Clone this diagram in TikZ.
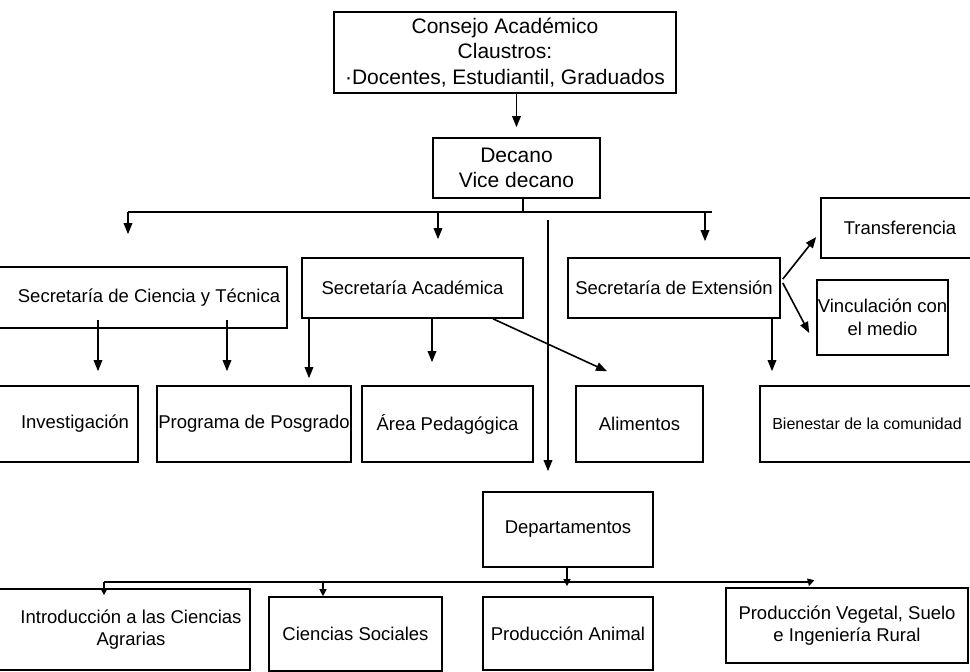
\documentclass[tikz,border=0pt]{standalone}
\usepackage{fontspec}
\setmainfont{Liberation Sans}
\usepackage{tikz}
\usetikzlibrary{arrows.meta}

\begin{document}
\begin{tikzpicture}[
				x = 1pt, y = -1pt,
				>={Triangle[length=11pt,width=8.5pt]},
				caja/.style = {draw, line width=1.6pt, inner sep=0pt, align=center,
					font=\fontsize{18.5}{22.5}\selectfont},
				alta/.style = {font=\fontsize{21}{25.5}\selectfont},
				flecha/.style = {->, line width=1.6pt},
				chica/.style = {-{Triangle[length=7pt,width=7pt]}, line width=1.2pt}
			]

			\useasboundingbox (0,0) rectangle (970,672);

			\node[caja,alta,minimum width=342pt,minimum height=81pt] (consejo) at (505,52.5)
				{Consejo Académico\\Claustros:\\·Docentes, Estudiantil, Graduados};
			\node[caja,alta,minimum width=167pt,minimum height=60pt] (decano) at (516.5,168)
				{Decano\\Vice decano};

			\node[caja,minimum width=291pt,minimum height=61pt] (cyt) at (141.5,297.5) {\hspace*{15pt}Secretaría de Ciencia y Técnica};
			\node[caja,minimum width=221pt,minimum height=60pt] (academica) at (412.5,288) {Secretaría Académica};
			\node[caja,minimum width=212pt,minimum height=60pt] (extension) at (674,288) {Secretaría de Extensión};
			\node[caja,minimum width=158pt,minimum height=60pt] (transf) at (900,228) {Transferencia};
			\node[caja,minimum width=131pt,minimum height=75pt] (vinc) at (882.5,317.5) {Vinculación con\\el medio};

			\node[caja,minimum width=142pt,minimum height=76pt] (invest) at (67,424) {\hspace*{16pt}Investigación};
			\node[caja,minimum width=194pt,minimum height=76pt] (posgrado) at (254,424) {Programa de Posgrado};
			\node[caja,minimum width=171pt,minimum height=76pt] (pedag) at (447.5,424) {Área Pedagógica};
			\node[caja,minimum width=127pt,minimum height=76pt] (alim) at (639.5,424) {Alimentos};
			\node[caja,minimum width=214pt,minimum height=76pt,font=\fontsize{16}{19}\selectfont] (bienestar) at (867,424)
				{Bienestar de la comunidad};

			\node[caja,minimum width=170pt,minimum height=75pt] (deptos) at (568,529.5) {Departamentos};

			\node[caja,minimum width=254pt,minimum height=81pt] (intro) at (123,629.5)
				{\hspace*{16pt}Introducción a las Ciencias\\\hspace*{16pt}Agrarias};
			\node[caja,minimum width=173pt,minimum height=74pt] (sociales) at (355.5,634) {Ciencias Sociales};
			\node[caja,minimum width=170pt,minimum height=73pt] (animal) at (568,633.5) {Producción Animal};
			\node[caja,minimum width=242pt,minimum height=75pt] (vegetal) at (847,625.5) {Producción Vegetal, Suelo\\e Ingeniería Rural};

			\coordinate (barraI) at (128,212);
			\coordinate (barraD) at (712,212);
			\coordinate (largo) at (548,220);
			\coordinate (bajaI) at (104,582);
			\coordinate (bajaD) at (810,582);

			\draw[flecha,shorten >=10pt] (decano.north |- consejo.south) -- (decano.north);
			\draw[line width=1.6pt] ([xshift=6.5pt]decano.south) -- ([xshift=6.5pt]decano.south |- barraI);
			\draw[line width=2.8pt] (barraI) -- (barraD);
			\draw[flecha] (barraI) -- ([xshift=-13.5pt,yshift=32pt]cyt.north);
			\draw[flecha] ([xshift=25.5pt]academica.north |- barraI) -- ([xshift=25.5pt,yshift=18pt]academica.north);
			\draw[flecha] ([xshift=31pt]extension.north |- barraI) -- ([xshift=31pt,yshift=16pt]extension.north);
			\draw[flecha] (largo) -- ([xshift=-20pt,yshift=20pt]deptos.north);

			\draw[flecha] ([xshift=-43.5pt,yshift=9pt]cyt.south) -- ([xshift=31pt,yshift=14pt]invest.north);
			\draw[flecha] ([xshift=85.5pt,yshift=9pt]cyt.south) -- ([xshift=-27pt,yshift=14pt]posgrado.north);
			\draw[flecha] ([xshift=-103.5pt]academica.south) -- ([xshift=55pt,yshift=7pt]posgrado.north);
			\draw[flecha] ([xshift=19.5pt]academica.south) -- ([xshift=-15.5pt,yshift=23pt]pedag.north);
			\draw[flecha] ([xshift=80.5pt]academica.south) -- ([xshift=-32.5pt,yshift=14pt]alim.north);
			\draw[flecha] ([xshift=2pt,yshift=9pt]extension.east) -- ([xshift=-4pt,yshift=-9pt]transf.west);
			\draw[flecha] ([xshift=2pt,yshift=5pt]extension.east) -- ([xshift=-7pt,yshift=-15.5pt]vinc.west);
			\draw[flecha] ([xshift=98pt]extension.south) -- ([xshift=-95pt,yshift=14pt]bienestar.north);

			\draw[line width=1.2pt] ([xshift=-1pt]deptos.south) -- ([xshift=-1pt]deptos.south |- bajaI);
			\draw[line width=1.8pt] (bajaI) -- (bajaD);
			\draw[chica] (bajaI) -- ([xshift=-19pt,yshift=-7pt]intro.north);
			\draw[chica] ([xshift=-32.5pt]sociales.north |- bajaI) -- ([xshift=-32.5pt]sociales.north);
			\draw[chica] ([xshift=-1pt]animal.north |- bajaI) -- ([xshift=-1pt,yshift=10pt]animal.north);
			\draw[chica] (bajaD) -- ([xshift=-38pt,yshift=1pt]vegetal.north);

			\end{tikzpicture}
\end{document}
